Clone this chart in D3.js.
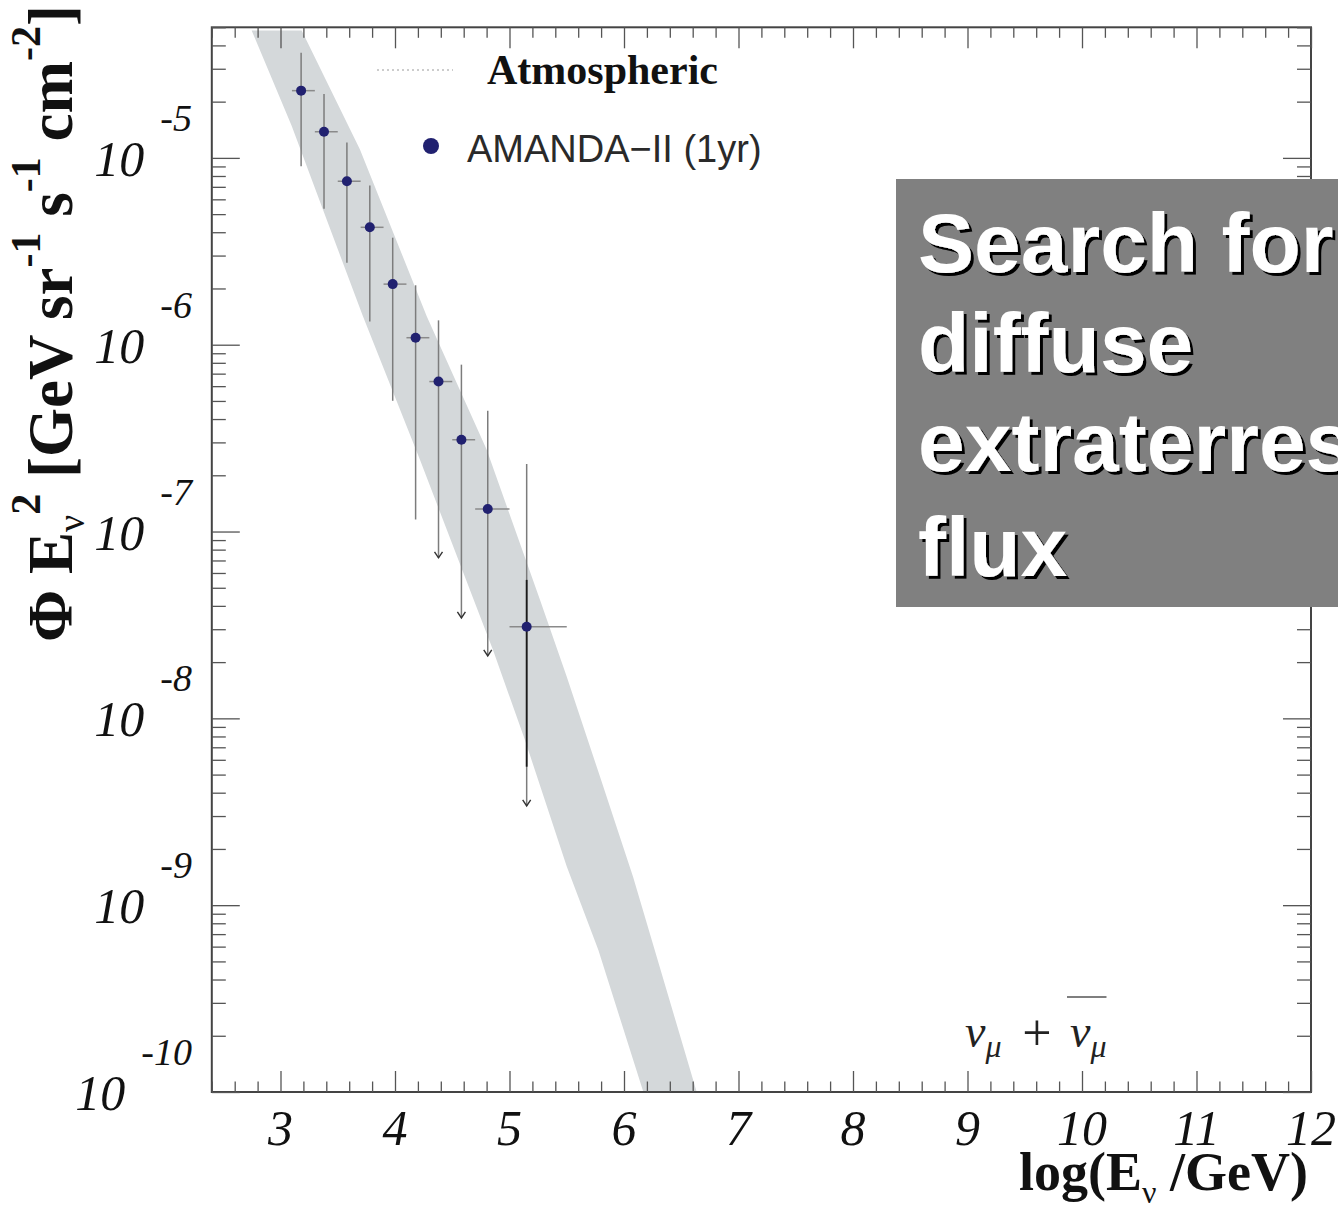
<!DOCTYPE html>
<html>
<head>
<meta charset="utf-8">
<script src="https://cdn.jsdelivr.net/npm/d3@7"></script>
<style>
  html, body { margin: 0; padding: 0; background: #ffffff; overflow: hidden; }
</style>
</head>
<body>
<svg id="chart" width="1338" height="1214"></svg>
<script>
// ---- AMANDA-II (1 yr) unfolded nu_mu + anti-nu_mu spectrum, E^2-weighted ----
// bin centres and bin edges in log10(E/GeV)
const binCenter = [3.18, 3.38, 3.58, 3.78, 3.98, 4.18, 4.38, 4.58, 4.81, 5.15];
const binLo     = [3.10, 3.30, 3.50, 3.70, 3.90, 4.10, 4.30, 4.50, 4.70, 5.00];
const binHi     = [3.30, 3.50, 3.70, 3.90, 4.10, 4.30, 4.50, 4.70, 5.00, 5.50];
// Phi * E^2  [GeV sr^-1 s^-1 cm^-2]
const flux      = [2.29e-5, 1.38e-5, 7.50e-6, 4.25e-6, 2.11e-6, 1.09e-6, 6.35e-7, 3.10e-7, 1.32e-7, 3.09e-8];
const fluxHi    = [3.65e-5, 2.20e-5, 1.21e-5, 7.11e-6, 3.74e-6, 2.08e-6, 1.35e-6, 7.82e-7, 4.43e-7, 2.30e-7];
const fluxLo    = [9.02e-6, 5.35e-6, 2.75e-6, 1.33e-6, 5.01e-7, 1.16e-7, 7.23e-8, 3.45e-8, 2.16e-8, 3.40e-9];
const isLimit   = [false, false, false, false, false, false, true, true, true, true];
// inner (statistical) part of the error bar, where shown
const statHi    = [null, null, null, null, null, null, null, null, null, 5.51e-8];
const statLo    = [null, null, null, null, null, null, null, null, null, 5.51e-9];

// atmospheric neutrino prediction band: upper and lower boundaries
const bandUpperE    = [3.185, 3.694, 4.277, 4.801, 5.266, 5.500, 5.790, 6.079, 6.635];
const bandUpperFlux = [4.81e-5, 1.11e-5, 1.42e-6, 2.74e-7, 4.31e-8, 1.67e-8, 4.88e-9, 1.42e-9, 1.0e-10];
const bandLowerE    = [2.748, 3.098, 3.403, 3.720, 4.218, 4.856, 5.135, 5.500, 5.776, 6.169];
const bandLowerFlux = [4.81e-5, 1.48e-5, 4.68e-6, 1.42e-6, 2.42e-7, 2.32e-8, 7.66e-9, 1.61e-9, 5.75e-10, 1.0e-10];

// axis ticks and labels
const xMajorTicks = [3, 4, 5, 6, 7, 8, 9, 10, 11, 12];
const xTickLabels = ["3", "4", "5", "6", "7", "8", "9", "10", "11", "12"];
const yExponents  = [-10, -9, -8, -7, -6, -5];
const yTickLabels = ["-10", "-9", "-8", "-7", "-6", "-5"];

const legendLabels = ["Atmospheric", "AMANDA\u2212II (1yr)"];
const boxLines = ["Search for", "diffuse", "extraterrestrial", "flux"];

// ---- layout ----
const serif = "'Liberation Serif', 'Times New Roman', serif";
const sans  = "'Liberation Sans', Arial, sans-serif";
const frame = { left: 211.8, right: 1311, top: 27.3, bottom: 1092 };

const svg = d3.select("#chart");

const x = d3.scaleLinear().domain([2.4, 12]).range([frame.left, frame.right]);
const y = d3.scaleLog().domain([1e-10, 5e-5]).range([frame.bottom, frame.top]);

const defs = svg.append("defs");
defs.append("clipPath").attr("id", "plot-clip")
  .append("rect")
  .attr("x", frame.left).attr("y", frame.top)
  .attr("width", frame.right - frame.left).attr("height", frame.bottom - frame.top);
const shadow = defs.append("filter").attr("id", "hard-shadow")
  .attr("x", "-5%").attr("y", "-20%").attr("width", "120%").attr("height", "150%");
shadow.append("feDropShadow")
  .attr("dx", 3).attr("dy", 3).attr("stdDeviation", 0)
  .attr("flood-color", "#000").attr("flood-opacity", 1);

// ---- atmospheric band ----
const bandPts = bandUpperE.map((e, i) => [x(e), y(bandUpperFlux[i])])
  .concat(bandLowerE.map((e, i) => [x(e), y(bandLowerFlux[i])]).reverse());
svg.append("path")
  .attr("clip-path", "url(#plot-clip)")
  .attr("d", d3.line()(bandPts) + "Z")
  .attr("fill", "#d4d8da");

// ---- data points with error bars ----
const pts = svg.append("g");
binCenter.forEach((e, i) => {
  const cx = x(e), cy = y(flux[i]);
  pts.append("line")
    .attr("x1", cx).attr("x2", cx)
    .attr("y1", y(fluxHi[i])).attr("y2", y(fluxLo[i]))
    .attr("stroke", "#7c7c7c").attr("stroke-width", 1.5);
  if (statHi[i] !== null) {
    pts.append("line")
      .attr("x1", cx).attr("x2", cx)
      .attr("y1", y(statHi[i])).attr("y2", y(statLo[i]))
      .attr("stroke", "#1a1a1a").attr("stroke-width", 1.8);
  }
  pts.append("line")
    .attr("x1", x(binLo[i])).attr("x2", x(binHi[i]))
    .attr("y1", cy).attr("y2", cy)
    .attr("stroke", "#8a8a8a").attr("stroke-width", 1.5);
  if (isLimit[i]) {
    const ay = y(fluxLo[i]);
    pts.append("path")
      .attr("d", `M${cx - 4},${ay - 6}L${cx},${ay}L${cx + 4},${ay - 6}`)
      .attr("fill", "none").attr("stroke", "#333").attr("stroke-width", 1.4);
  }
});
pts.selectAll("circle").data(binCenter).join("circle")
  .attr("cx", d => x(d)).attr("cy", (d, i) => y(flux[i]))
  .attr("r", 5).attr("fill", "#212170");

// ---- frame and ticks ----
svg.append("rect")
  .attr("x", frame.left).attr("y", frame.top)
  .attr("width", frame.right - frame.left).attr("height", frame.bottom - frame.top)
  .attr("fill", "none").attr("stroke", "#444").attr("stroke-width", 2);

const xMinor = d3.range(24, 121, 2).map(v => v / 10).filter(v => !xMajorTicks.includes(v));
const yMajor = yExponents.map(k => Math.pow(10, k));
const yMinor = [];
yExponents.forEach(k => {
  for (let m = 2; m <= 9; m++) {
    const v = m * Math.pow(10, k);
    if (v <= 5.0001e-5) yMinor.push(v);
  }
});

function tickGroup(axis, tx, ty) {
  const g = svg.append("g").attr("transform", `translate(${tx},${ty})`).call(axis);
  g.select(".domain").remove();
  g.selectAll("text").remove();
  g.selectAll("line").attr("stroke", "#555").attr("stroke-width", 1.3);
  return g;
}
tickGroup(d3.axisBottom(x).tickValues(xMajorTicks).tickSizeInner(-21).tickSizeOuter(0), 0, frame.bottom);
tickGroup(d3.axisBottom(x).tickValues(xMinor).tickSizeInner(-10.5).tickSizeOuter(0), 0, frame.bottom);
tickGroup(d3.axisTop(x).tickValues(xMajorTicks).tickSizeInner(-21).tickSizeOuter(0), 0, frame.top);
tickGroup(d3.axisTop(x).tickValues(xMinor).tickSizeInner(-10.5).tickSizeOuter(0), 0, frame.top);
tickGroup(d3.axisLeft(y).tickValues(yMajor).tickSizeInner(-28).tickSizeOuter(0), frame.left, 0);
tickGroup(d3.axisLeft(y).tickValues(yMinor).tickSizeInner(-14).tickSizeOuter(0), frame.left, 0);
tickGroup(d3.axisRight(y).tickValues(yMajor).tickSizeInner(-28).tickSizeOuter(0), frame.right, 0);
tickGroup(d3.axisRight(y).tickValues(yMinor).tickSizeInner(-14).tickSizeOuter(0), frame.right, 0);

// ---- tick labels ----
svg.append("g").selectAll("text").data(xMajorTicks).join("text")
  .attr("x", d => x(d)).attr("y", frame.bottom + 53)
  .attr("text-anchor", "middle")
  .attr("font-family", serif).attr("font-style", "italic")
  .attr("font-size", 50).attr("fill", "#111")
  .text((d, i) => xTickLabels[i]);

yExponents.forEach((k, i) => {
  const t = svg.append("text")
    .attr("x", 192).attr("y", y(Math.pow(10, k)) + 18)
    .attr("text-anchor", "end")
    .attr("font-family", serif).attr("font-style", "italic").attr("fill", "#111");
  t.append("tspan").attr("font-size", 50).text("10");
  t.append("tspan").attr("font-size", 38).attr("dx", 16).attr("dy", -45).text(yTickLabels[i]);
});

// ---- axis titles ----
const xt = svg.append("text")
  .attr("x", 1308).attr("y", 1190).attr("text-anchor", "end")
  .attr("font-family", serif).attr("font-weight", "bold").attr("font-size", 54).attr("fill", "#111");
xt.append("tspan").text("log(E");
xt.append("tspan").attr("font-size", 32).attr("font-weight", "normal").attr("dy", 13).text("\u03BD");
xt.append("tspan").attr("dy", -13).text(" /GeV)");

const yt = svg.append("text")
  .attr("transform", "translate(72,642) rotate(-90)")
  .attr("font-family", serif).attr("font-weight", "bold").attr("font-size", 63).attr("fill", "#111");
yt.append("tspan").text("\u03A6 E");
yt.append("tspan").attr("font-size", 38).attr("font-weight", "normal").attr("dy", 12).text("\u03BD");
yt.append("tspan").attr("font-size", 42).attr("dy", -44).text("2");
yt.append("tspan").attr("dy", 32).text(" [GeV sr");
yt.append("tspan").attr("font-size", 42).attr("dy", -32).text("-1");
yt.append("tspan").attr("dy", 32).text(" s");
yt.append("tspan").attr("font-size", 42).attr("dy", -32).text("-1");
yt.append("tspan").attr("dy", 32).text(" cm");
yt.append("tspan").attr("font-size", 42).attr("dy", -32).text("-2");
yt.append("tspan").attr("dy", 32).text("]");

// ---- legend ----
svg.append("line")
  .attr("x1", 377).attr("x2", 453).attr("y1", 70).attr("y2", 70)
  .attr("stroke", "#9a9a9a").attr("stroke-width", 1).attr("stroke-dasharray", "2,3");
svg.append("text")
  .attr("x", 487).attr("y", 84)
  .attr("font-family", serif).attr("font-weight", "bold").attr("font-size", 42).attr("fill", "#111")
  .text(legendLabels[0]);
svg.append("circle").attr("cx", 431).attr("cy", 146).attr("r", 8).attr("fill", "#212170");
svg.append("text")
  .attr("x", 467).attr("y", 162)
  .attr("font-family", sans).attr("font-size", 38).attr("fill", "#2a2a2a")
  .text(legendLabels[1]);

// ---- nu_mu + anti-nu_mu tag ----
const tagA = svg.append("text")
  .attr("x", 965).attr("y", 1047)
  .attr("font-family", serif).attr("font-style", "italic").attr("font-size", 46).attr("fill", "#222");
tagA.append("tspan").text("\u03BD");
tagA.append("tspan").attr("font-size", 32).attr("dy", 10).text("\u03BC");
svg.append("text")
  .attr("x", 1037).attr("y", 1050).attr("text-anchor", "middle")
  .attr("font-family", serif).attr("font-size", 52).attr("fill", "#222")
  .text("+");
const tagB = svg.append("text")
  .attr("x", 1070).attr("y", 1047)
  .attr("font-family", serif).attr("font-style", "italic").attr("font-size", 46).attr("fill", "#222");
tagB.append("tspan").text("\u03BD");
tagB.append("tspan").attr("font-size", 32).attr("dy", 10).text("\u03BC");
const bb = tagB.node().getBBox();
svg.append("line")
  .attr("x1", bb.x - 3).attr("x2", bb.x + bb.width)
  .attr("y1", 997).attr("y2", 997)
  .attr("stroke", "#555").attr("stroke-width", 1.5);

// ---- title box ----
const box = svg.append("g");
box.append("rect")
  .attr("x", 896).attr("y", 179).attr("width", 460).attr("height", 428)
  .attr("fill", "#808080");
const lineY = [272, 372, 471, 576];
box.append("text")
  .attr("font-family", sans).attr("font-weight", "bold").attr("font-size", 84)
  .attr("fill", "#fff").attr("filter", "url(#hard-shadow)")
  .selectAll("tspan").data(boxLines).join("tspan")
  .attr("x", 918).attr("y", (d, i) => lineY[i])
  .text(d => d);
</script>
</body>
</html>
